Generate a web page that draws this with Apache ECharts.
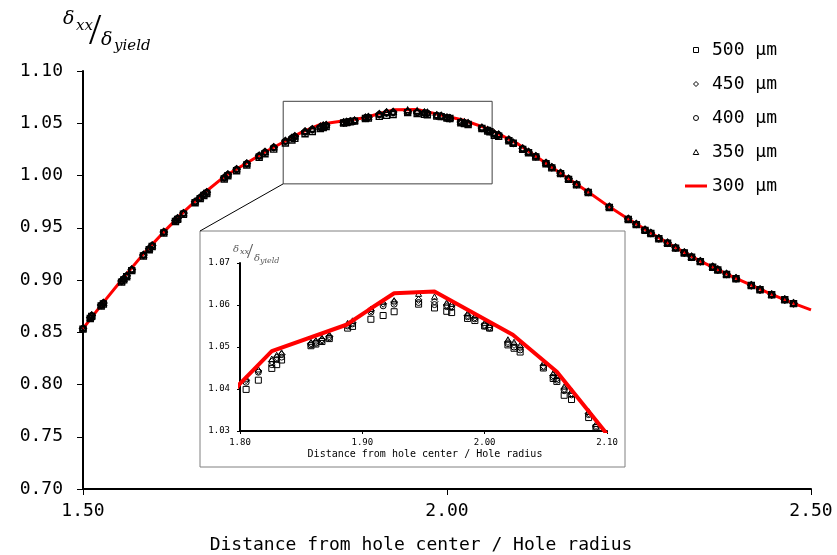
<!DOCTYPE html>
<html><head><meta charset="utf-8">
<script src="https://cdn.jsdelivr.net/npm/echarts@6/dist/echarts.min.js"></script>
<style>html,body{margin:0;padding:0;background:#fff}#c{width:837px;height:555px}</style>
</head><body><div id="c"></div>
<script>
// ---- data ----
const distance = [1.500,1.510,1.512,1.525,1.528,1.553,1.556,1.560,1.567,1.583,1.591,1.595,1.611,1.627,1.630,1.638,1.654,1.661,1.666,1.670,1.694,1.699,1.711,1.725,1.742,1.750,1.762,1.778,1.787,1.791,
1.805,1.815,1.826,1.830,1.834,1.858,1.862,1.867,1.873,1.888,1.892,1.907,1.917,1.926,1.946,1.959,1.969,1.973,1.986,1.992,2.000,2.004,2.019,2.024,2.029,2.048,2.056,2.059,2.065,2.071,2.085,2.091,
2.104,2.112,2.122,2.136,2.144,2.156,2.167,2.178,2.194,2.223,2.249,2.260,2.272,2.280,2.291,2.303,2.314,2.326,2.336,2.348,2.365,2.372,2.384,2.397,2.418,2.430,2.446,2.464,2.476];

const s450 = [0.8537,0.8640,0.8660,0.8760,0.8780,0.8990,0.9010,0.9040,0.9100,0.9240,0.9300,0.9330,0.9460,0.9570,0.9590,0.9640,0.9750,0.9790,0.9820,0.9840,0.9980,1.0010,1.0060,1.0115,1.0190,1.0225,1.0270,1.0330,1.0360,1.0375,
1.0421,1.0443,1.0465,1.0475,1.0482,1.0508,1.0512,1.0518,1.0525,1.0553,1.0558,1.0587,1.0603,1.0607,1.0612,1.0608,1.0600,1.0598,1.0575,1.0570,1.0553,1.0548,1.0512,1.0505,1.0498,1.0455,1.0432,1.0425,1.0400,1.0390,1.0342,1.0312,
1.0258,1.0226,1.0185,1.0120,1.0080,1.0025,0.9970,0.9917,0.9843,0.9700,0.9585,0.9535,0.9480,0.9450,0.9400,0.9356,0.9310,0.9264,0.9222,0.9180,0.9126,0.9100,0.9057,0.9016,0.8950,0.8910,0.8862,0.8814,0.8777];

const s400 = [0.8535,0.8638,0.8657,0.8757,0.8778,0.8987,0.9008,0.9037,0.9097,0.9237,0.9298,0.9327,0.9457,0.9567,0.9588,0.9637,0.9747,0.9788,0.9817,0.9837,0.9977,1.0007,1.0057,1.0112,1.0187,1.0222,1.0267,1.0327,1.0357,1.0372,
1.0416,1.0440,1.0458,1.0470,1.0476,1.0505,1.0509,1.0515,1.0522,1.0550,1.0555,1.0583,1.0598,1.0602,1.0606,1.0601,1.0596,1.0594,1.0572,1.0567,1.0550,1.0545,1.0508,1.0500,1.0493,1.0452,1.0428,1.0421,1.0396,1.0386,1.0339,1.0309,
1.0255,1.0223,1.0182,1.0117,1.0077,1.0022,0.9967,0.9914,0.9840,0.9697,0.9582,0.9532,0.9477,0.9447,0.9397,0.9353,0.9307,0.9261,0.9219,0.9177,0.9123,0.9097,0.9054,0.9013,0.8947,0.8907,0.8859,0.8811,0.8774];

const s350 = [0.8540,0.8643,0.8663,0.8763,0.8784,0.8993,0.9014,0.9043,0.9104,0.9243,0.9304,0.9333,0.9463,0.9574,0.9593,0.9643,0.9754,0.9793,0.9824,0.9843,0.9984,1.0013,1.0064,1.0118,1.0193,1.0228,1.0273,1.0333,1.0363,1.0378,
1.0425,1.0447,1.0472,1.0481,1.0487,1.0512,1.0516,1.0522,1.0530,1.0557,1.0563,1.0591,1.0608,1.0611,1.0627,1.0620,1.0606,1.0603,1.0580,1.0575,1.0558,1.0553,1.0518,1.0512,1.0505,1.0462,1.0438,1.0431,1.0406,1.0396,1.0347,1.0317,
1.0261,1.0229,1.0188,1.0123,1.0083,1.0028,0.9973,0.9920,0.9846,0.9703,0.9588,0.9538,0.9483,0.9453,0.9403,0.9359,0.9313,0.9267,0.9225,0.9183,0.9129,0.9103,0.9060,0.9019,0.8953,0.8913,0.8865,0.8817,0.8780];

const s500 = [0.8530,0.8632,0.8652,0.8751,0.8771,0.8980,0.9001,0.9031,0.9090,0.9230,0.9290,0.9320,0.9450,0.9560,0.9580,0.9629,0.9739,0.9779,0.9808,0.9828,0.9967,0.9997,1.0046,1.0100,1.0174,1.0208,1.0252,1.0311,1.0340,1.0355,
1.0399,1.0421,1.0449,1.0458,1.0469,1.0503,1.0507,1.0513,1.0520,1.0545,1.0549,1.0566,1.0575,1.0584,1.0602,1.0593,1.0585,1.0582,1.0568,1.0563,1.0550,1.0545,1.0505,1.0497,1.0488,1.0450,1.0425,1.0418,1.0385,1.0375,1.0332,1.0308,
1.0250,1.0218,1.0177,1.0112,1.0073,1.0018,0.9963,0.9910,0.9837,0.9694,0.9579,0.9530,0.9475,0.9445,0.9395,0.9351,0.9305,0.9259,0.9218,0.9176,0.9122,0.9096,0.9053,0.9012,0.8947,0.8907,0.8859,0.8811,0.8774];

const line300X = [1.500,1.525,1.553,1.583,1.611,1.638,1.666,1.694,1.725,1.750,1.778,1.800,1.826,1.887,1.905,1.926,1.959,2.023,2.059,2.098,2.122,2.144,2.167,2.194,2.223,2.250,2.279,2.303,2.326,2.348,2.372,2.397,2.418,2.446,2.476,2.500];
const line300Y = [0.8535,0.8760,0.9000,0.9250,0.9460,0.9650,0.9830,0.9990,1.0120,1.0225,1.0330,1.0413,1.0490,1.0553,1.0588,1.0628,1.0632,1.0529,1.0441,1.0300,1.0185,1.0080,0.9970,0.9843,0.9700,0.9580,0.9455,0.9355,0.9264,0.9180,0.9100,0.9016,0.8950,0.8862,0.8777,0.8715];

const seriesNames = ['500 µm','450 µm','400 µm','350 µm','300 µm'];
const seriesValues = [s500, s450, s400, s350];
const axisTitle = 'Distance from hole center / Hole radius';
const zoomBoxX = [1.775, 2.062];
const zoomBoxY = [0.992, 1.071];

// ---- chart ----
const mono = 'DejaVu Sans Mono';
const serif = 'DejaVu Serif';
const symbols = [
  'path://M0,0H10V10H0Z',
  'path://M5,0L10,5L5,10L0,5Z',
  'circle',
  'path://M5,0L10,9L0,9Z'
];
const pair = ys => distance.map((x, i) => [x, ys[i]]);
const linePairs = line300X.map((x, i) => [x, line300Y[i]]);
const fmt = v => v.toFixed(2);

const chart = echarts.init(document.getElementById('c'), null, {renderer: 'canvas'});

const series = [];
seriesNames.slice(0, 4).forEach((name, k) => {
  series.push({
    name, type: 'scatter', xAxisIndex: 0, yAxisIndex: 0, z: 4,
    symbol: symbols[k], symbolSize: k === 1 ? 7 : 6, symbolKeepAspect: true,
    itemStyle: {color: 'rgba(255,255,255,0)', borderColor: '#000', borderWidth: 1.4, opacity: 1},
    data: pair(seriesValues[k]), animation: false
  });
});
series.push({
  name: seriesNames[4], type: 'line', xAxisIndex: 0, yAxisIndex: 0, z: 3,
  symbol: 'none', lineStyle: {color: '#ff0000', width: 3}, itemStyle: {color: '#ff0000'},
  data: linePairs, animation: false
});
seriesNames.slice(0, 4).forEach((name, k) => {
  series.push({
    name, type: 'scatter', xAxisIndex: 1, yAxisIndex: 1, z: 6, clip: true,
    symbol: symbols[k], symbolSize: k === 1 ? 7 : 6, symbolKeepAspect: true,
    itemStyle: {color: 'rgba(255,255,255,0)', borderColor: '#000', borderWidth: 1, opacity: 1},
    data: pair(seriesValues[k]), animation: false
  });
});
series.push({
  name: seriesNames[4], type: 'line', xAxisIndex: 1, yAxisIndex: 1, z: 7, clip: true,
  symbol: 'none', lineStyle: {color: '#ff0000', width: 4}, itemStyle: {color: '#ff0000'},
  data: linePairs, animation: false
});

const axisBase = (lw) => ({
  type: 'value', splitLine: {show: false},
  axisLine: {show: true, onZero: false, lineStyle: {color: '#000', width: lw}},
});

const legendIcons = [
  'path://M0,0H10V10H0Z',
  'path://M5,0L10,5L5,10L0,5Z',
  'path://M5,0A5,5,0,1,1,4.99,0Z',
  'path://M5,0L10,9L0,9Z',
  'path://M0,0H22V3H0Z'
];

chart.setOption({
  animation: false,
  backgroundColor: '#fff',
  grid: [
    {left: 83, right: 26, top: 71, bottom: 66},
    {left: 240, top: 263, width: 367, height: 168}
  ],
  xAxis: [
    Object.assign(axisBase(2), {gridIndex: 0, min: 1.5, max: 2.5, interval: 0.5,
      axisTick: {show: true, length: 6, lineStyle: {color: '#000', width: 1}},
      axisLabel: {formatter: fmt, color: '#000', fontFamily: mono, fontSize: 18, margin: 13}}),
    Object.assign(axisBase(2), {gridIndex: 1, min: 1.8, max: 2.1, interval: 0.1, z: 5,
      axisTick: {show: true, length: 3, lineStyle: {color: '#000', width: 1}},
      axisLabel: {formatter: fmt, color: '#000', fontFamily: mono, fontSize: 9, margin: 7}})
  ],
  yAxis: [
    Object.assign(axisBase(2), {gridIndex: 0, min: 0.7, max: 1.1, interval: 0.05,
      axisTick: {show: true, length: 6, lineStyle: {color: '#000', width: 1}},
      axisLabel: {formatter: fmt, color: '#000', fontFamily: mono, fontSize: 18, margin: 20}}),
    Object.assign(axisBase(2), {gridIndex: 1, min: 1.03, max: 1.07, interval: 0.01, z: 5,
      axisTick: {show: true, length: 3, lineStyle: {color: '#000', width: 1}},
      axisLabel: {formatter: fmt, color: '#000', fontFamily: mono, fontSize: 9, margin: 10}})
  ],
  legend: {
    orient: 'vertical', left: 680, top: 35, itemWidth: 22, itemHeight: 5, itemGap: 14,
    symbolKeepAspect: true,
    itemStyle: {borderWidth: 1},
    data: seriesNames.map((n, i) => ({name: n, icon: legendIcons[i]})), selectedMode: false,
    textStyle: {fontFamily: mono, fontSize: 18, color: '#000', lineHeight: 20}
  },
  series
});

// annotations: zoom box, inset frame, connector, titles
const p1 = chart.convertToPixel({gridIndex: 0}, [zoomBoxX[0], zoomBoxY[1]]);
const p2 = chart.convertToPixel({gridIndex: 0}, [zoomBoxX[1], zoomBoxY[0]]);
const insetFrame = {x: 200, y: 231, w: 425, h: 236};
const txt = (t, x, y, size, opts) => Object.assign({type: 'text', x, y, z: 10,
  style: Object.assign({text: t, fontSize: size, fontFamily: serif, fill: '#000', align: 'left', verticalAlign: 'middle'}, opts || {})});

chart.setOption({
  graphic: [
    {type: 'rect', z: 1, shape: {x: p1[0], y: p1[1], width: p2[0] - p1[0], height: p2[1] - p1[1]},
      style: {fill: null, stroke: '#404040', lineWidth: 1}},
    {type: 'rect', z: 1, shape: {x: insetFrame.x, y: insetFrame.y, width: insetFrame.w, height: insetFrame.h},
      style: {fill: '#fff', stroke: '#808080', lineWidth: 1}},
    {type: 'line', z: 1, shape: {x1: p1[0], y1: p2[1], x2: insetFrame.x, y2: insetFrame.y},
      style: {stroke: '#000', lineWidth: 1}},
    // main axis title
    txt(axisTitle, 421, 545, 18, {fontFamily: mono, align: 'center'}),
    // main y title δxx/δyield
    txt('δ', 63, 19, 19, {fontStyle: 'italic'}),
    txt('xx', 76, 26, 15, {fontStyle: 'italic'}),
    txt('/', 89, 32, 44, {fontFamily: 'Liberation Serif'}),
    txt('δ', 101, 40, 19, {fontStyle: 'italic'}),
    txt('yield', 114, 46, 15, {fontStyle: 'italic'}),
    // inset titles
    txt(axisTitle, 425, 454, 10, {fontFamily: mono, align: 'center'}),
    txt('δ', 233, 249, 10, {fontStyle: 'italic', fill: '#595959'}),
    txt('xx', 240, 252, 8, {fontStyle: 'italic', fill: '#595959'}),
    txt('/', 247, 252, 22, {fill: '#595959', fontFamily: 'Liberation Serif'}),
    txt('δ', 254, 258, 10, {fontStyle: 'italic', fill: '#595959'}),
    txt('yield', 260, 261, 8, {fontStyle: 'italic', fill: '#595959'})
  ]
});
</script></body></html>
